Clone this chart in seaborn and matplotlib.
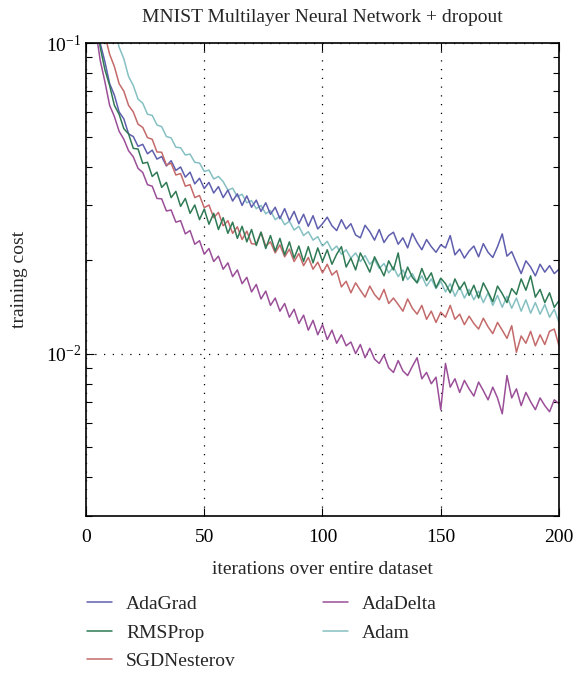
import matplotlib
matplotlib.use("Agg")
import matplotlib.pyplot as plt
import pandas as pd
import seaborn as sns
from matplotlib.ticker import LogLocator, NullFormatter, FixedLocator

iterations = list(range(2, 201, 2))

adagrad = [0.20, 0.13, 0.100, 0.087, 0.074, 0.068, 0.060, 0.057, 0.051, 0.050,
           0.0465, 0.0472, 0.0440, 0.0452, 0.0423, 0.0431, 0.0402, 0.0418, 0.0389, 0.0399,
           0.0370, 0.0384, 0.0352, 0.0367, 0.0340, 0.0356, 0.0329, 0.0345, 0.0318, 0.0336,
           0.0310, 0.0327, 0.0300, 0.0322, 0.0296, 0.0312, 0.0287, 0.0306, 0.0281, 0.0296,
           0.0272, 0.0293, 0.0268, 0.0287, 0.0262, 0.0281, 0.0257, 0.0278, 0.0252, 0.0262,
           0.0275, 0.0258, 0.0249, 0.0270, 0.0252, 0.0262, 0.0241, 0.0236, 0.0259, 0.0247,
           0.0232, 0.0251, 0.0228, 0.0240, 0.0246, 0.0225, 0.0236, 0.0219, 0.0244, 0.0228,
           0.0216, 0.0233, 0.0221, 0.0212, 0.0224, 0.0219, 0.0240, 0.0208, 0.0217, 0.0203,
           0.0214, 0.0222, 0.0205, 0.0226, 0.0212, 0.0204, 0.0221, 0.0243, 0.0206, 0.0213,
           0.0196, 0.0181, 0.0199, 0.0190, 0.0178, 0.0194, 0.0183, 0.0192, 0.0181, 0.0187]

rmsprop = [0.19, 0.125, 0.097, 0.082, 0.073, 0.063, 0.059, 0.053, 0.051, 0.0458,
           0.0456, 0.0410, 0.0413, 0.0372, 0.0384, 0.0343, 0.0356, 0.0318, 0.0333, 0.0298,
           0.0316, 0.0283, 0.0301, 0.0270, 0.0292, 0.0261, 0.0283, 0.0251, 0.0274, 0.0244,
           0.0265, 0.0235, 0.0257, 0.0229, 0.0251, 0.0223, 0.0246, 0.0218, 0.0240, 0.0214,
           0.0235, 0.0208, 0.0229, 0.0203, 0.0222, 0.0198, 0.0221, 0.0196, 0.0219, 0.0198,
           0.0216, 0.0194, 0.0209, 0.0221, 0.0190, 0.0203, 0.0186, 0.0211, 0.0197, 0.0183,
           0.0205, 0.0191, 0.0178, 0.0199, 0.0186, 0.0211, 0.0172, 0.0190, 0.0176, 0.0169,
           0.0188, 0.0172, 0.0182, 0.0163, 0.0175, 0.0168, 0.0157, 0.0174, 0.0161, 0.0170,
           0.0154, 0.0166, 0.0151, 0.0169, 0.0158, 0.0147, 0.0165, 0.0156, 0.0146, 0.0162,
           0.0155, 0.0174, 0.0160, 0.0178, 0.0152, 0.0161, 0.0146, 0.0157, 0.0141, 0.0148]

sgd_nesterov = [0.25, 0.17, 0.125, 0.106, 0.092, 0.084, 0.074, 0.070, 0.063, 0.060,
                0.0548, 0.0535, 0.0496, 0.0490, 0.0446, 0.0445, 0.0405, 0.0410, 0.0376, 0.0380,
                0.0346, 0.0350, 0.0318, 0.0323, 0.0295, 0.0301, 0.0274, 0.0285, 0.0258, 0.0268,
                0.0244, 0.0256, 0.0233, 0.0248, 0.0226, 0.0225, 0.0246, 0.0222, 0.0229, 0.0211,
                0.0224, 0.0205, 0.0217, 0.0198, 0.0210, 0.0192, 0.0204, 0.0187, 0.0197, 0.0182,
                0.0194, 0.0179, 0.0185, 0.0164, 0.0171, 0.0157, 0.0169, 0.0160, 0.0152, 0.0165,
                0.0155, 0.0149, 0.0161, 0.0145, 0.0151, 0.0144, 0.0137, 0.0150, 0.0140, 0.0134,
                0.0143, 0.0129, 0.0137, 0.0126, 0.0136, 0.0131, 0.0143, 0.0129, 0.0134, 0.0124,
                0.0132, 0.0125, 0.0120, 0.0130, 0.0122, 0.0116, 0.0126, 0.0119, 0.0112, 0.0123,
                0.0101, 0.0114, 0.0108, 0.0118, 0.0106, 0.0115, 0.0107, 0.0118, 0.0120, 0.0106]

adadelta = [0.17, 0.112, 0.088, 0.075, 0.063, 0.058, 0.052, 0.049, 0.045, 0.0430,
            0.0395, 0.0383, 0.0350, 0.0346, 0.0316, 0.0315, 0.0288, 0.0290, 0.0265, 0.0268,
            0.0243, 0.0249, 0.0225, 0.0231, 0.0209, 0.0218, 0.0198, 0.0206, 0.0187, 0.0196,
            0.0177, 0.0186, 0.0168, 0.0176, 0.0158, 0.0167, 0.0150, 0.0159, 0.0143, 0.0151,
            0.0137, 0.0145, 0.0131, 0.0139, 0.0125, 0.0133, 0.0119, 0.0128, 0.0115, 0.0124,
            0.0111, 0.0119, 0.0108, 0.0115, 0.0106, 0.0109, 0.0100, 0.0107, 0.0097, 0.0104,
            0.0096, 0.0093, 0.0099, 0.0090, 0.0087, 0.0095, 0.0088, 0.0085, 0.0091, 0.0097,
            0.0083, 0.0087, 0.0080, 0.0084, 0.0066, 0.0093, 0.0078, 0.0083, 0.0075, 0.0082,
            0.0077, 0.0073, 0.0081, 0.0076, 0.0071, 0.0078, 0.0072, 0.0064, 0.0085, 0.0072,
            0.0077, 0.0068, 0.0075, 0.0070, 0.0066, 0.0072, 0.0068, 0.0065, 0.0071, 0.0069]

adam = [0.30, 0.22, 0.18, 0.15, 0.128, 0.111, 0.097, 0.089, 0.078, 0.073,
        0.066, 0.064, 0.059, 0.0585, 0.0545, 0.0538, 0.0500, 0.0495, 0.0462, 0.0460,
        0.0436, 0.0439, 0.0413, 0.0411, 0.0386, 0.0390, 0.0365, 0.0372, 0.0358, 0.0336,
        0.0341, 0.0320, 0.0326, 0.0306, 0.0311, 0.0293, 0.0300, 0.0282, 0.0289, 0.0270,
        0.0277, 0.0260, 0.0267, 0.0250, 0.0257, 0.0240, 0.0247, 0.0232, 0.0238, 0.0222,
        0.0230, 0.0215, 0.0222, 0.0209, 0.0216, 0.0203, 0.0211, 0.0198, 0.0207, 0.0194,
        0.0201, 0.0188, 0.0195, 0.0182, 0.0190, 0.0177, 0.0186, 0.0173, 0.0181, 0.0169,
        0.0178, 0.0165, 0.0174, 0.0162, 0.0171, 0.0158, 0.0168, 0.0153, 0.0164, 0.0151,
        0.0161, 0.0149, 0.0159, 0.0146, 0.0157, 0.0143, 0.0154, 0.0141, 0.0153, 0.0140,
        0.0151, 0.0137, 0.0149, 0.0135, 0.0146, 0.0134, 0.0144, 0.0131, 0.0139, 0.0126]

names = ["AdaGrad", "RMSProp", "SGDNesterov", "AdaDelta", "Adam"]
series = [adagrad, rmsprop, sgd_nesterov, adadelta, adam]
colours = {"AdaGrad": "#5f5fae", "RMSProp": "#2f7a55", "SGDNesterov": "#c46a6a",
           "AdaDelta": "#9a4f98", "Adam": "#86c0c2"}

frames = [pd.DataFrame({"iteration": iterations, "cost": s, "optimizer": n})
          for n, s in zip(names, series)]
df = pd.concat(frames, ignore_index=True)

sns.set_style("ticks")
plt.rcParams["font.family"] = ["Liberation Serif", "DejaVu Serif"]
plt.rcParams["mathtext.fontset"] = "custom"
plt.rcParams["mathtext.rm"] = "Liberation Serif"
plt.rcParams["mathtext.it"] = "Liberation Serif:italic"
plt.rcParams["axes.unicode_minus"] = False

fig = plt.figure(figsize=(5.87, 6.78), dpi=100)
ax = fig.add_axes([0.1465, 0.2389, 0.8058, 0.6976])

draw_order = ["Adam", "AdaGrad", "SGDNesterov", "RMSProp", "AdaDelta"]
for n in draw_order:
    sns.lineplot(data=df[df.optimizer == n], x="iteration", y="cost",
                 color=colours[n], lw=1.1, estimator=None, ax=ax, label=n, legend=False)

ax.set_yscale("log")
ax.set_xlim(0, 200)
ax.set_ylim(0.003, 0.1)
ax.xaxis.set_major_locator(FixedLocator([0, 50, 100, 150, 200]))
ax.yaxis.set_major_locator(LogLocator(base=10))
ax.yaxis.set_minor_locator(LogLocator(base=10, subs=range(2, 10)))
ax.yaxis.set_minor_formatter(NullFormatter())
ax.tick_params(which="both", direction="in", top=True, right=True, labelsize=14, colors="black")
ax.tick_params(which="major", length=6, width=0.8)
ax.tick_params(which="minor", length=4, width=0.8)
ax.tick_params(axis="x", pad=9)
for sp in ax.spines.values():
    sp.set_linewidth(1.2)
    sp.set_color("black")
ax.grid(True, which="major", color="black", linestyle=(0, (1, 6)), lw=0.9)

ax.set_title("MNIST Multilayer Neural Network + dropout", fontsize=14, pad=15)
ax.set_xlabel("iterations over entire dataset", fontsize=14, labelpad=11)
ax.set_ylabel("training cost", fontsize=14, labelpad=13)

handles = {l.get_label(): l for l in ax.get_lines()}
fig.legend([handles[n] for n in names], names, ncol=2, frameon=False, fontsize=14,
           loc="upper left", bbox_to_anchor=(0.135, 0.133), handlelength=1.3,
           columnspacing=4.5, labelspacing=0.56, handletextpad=0.7,
           borderaxespad=0)

fig.savefig("out.png", dpi=100)
